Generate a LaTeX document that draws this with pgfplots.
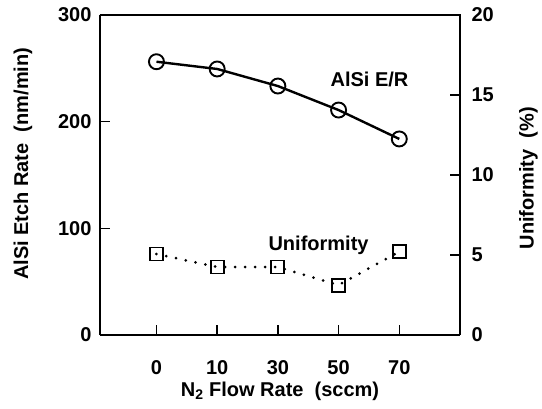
\documentclass[border=0pt]{standalone}
\usepackage{pgfplots}
\pgfplotsset{compat=1.18}
\usepackage{fontspec}
\setmainfont{Liberation Sans}
\begin{document}
\begin{tikzpicture}[font=\fontsize{20}{24}\selectfont\bfseries]
\pgfplotstableread{
idx er unif
0 256.2 5.06
1 249.4 4.25
2 233.4 4.25
3 210.9 3.12
4 183.8 5.21
}\datatab
\pgfplotsset{
  every axis/.append style={font=\fontsize{20}{24}\selectfont\bfseries},
  every tick label/.append style={font=\fontsize{20}{24}\selectfont\bfseries},
  every axis label/.append style={font=\fontsize{20}{24}\selectfont\bfseries},
}
\begin{axis}[
  at={(0,0)}, anchor=south west,
  scale only axis, width=360pt, height=320pt,
  xmin=-0.93, xmax=5.0, ymin=0, ymax=300,
  xtick={0,1,2,3,4}, xticklabels={0,10,30,50,70},
  ytick={0,100,200,300},
  axis x line*=bottom, axis y line*=left,
  axis line style={line width=1.8pt},
  major tick length=10pt,
  tick align=inside,
  tick style={line width=1.5pt, black},
  /pgf/number format/assume math mode=true,
  xticklabel style={anchor=base, yshift=-39pt},
  yticklabel style={anchor=east, xshift=-5pt},
  xlabel={N\textsubscript{2} Flow Rate\ \ (sccm)},
  xlabel style={at={(axis description cs:0.5,-0.175)}, anchor=center},
  ylabel={AlSi Etch Rate\ \ (nm/min)},
  ylabel style={at={(axis description cs:-0.214,0.535)}, anchor=center, rotate=0},
  clip=false,
]
\draw[line width=1.8pt] (axis cs:-0.93,300) -- (axis cs:5.0,300) -- (axis cs:5.0,0);
\addplot[black, line width=2.4pt, mark=o, mark size=7.5pt,
  mark options={fill=white, line width=1.9pt, solid}] table[x=idx, y=er] {\datatab};
\node[anchor=center, inner sep=0pt] at (axis cs:3.51,240) {AlSi E/R};
\node[anchor=center, inner sep=0pt] at (axis cs:2.67,84) {Uniformity};
\end{axis}
\begin{axis}[
  at={(0,0)}, anchor=south west,
  scale only axis, width=360pt, height=320pt,
  xmin=-0.93, xmax=5.0, ymin=0, ymax=20,
  axis x line=none, axis y line*=right,
  axis line style={line width=1.8pt},
  ytick={0,5,10,15,20},
  major tick length=10pt,
  tick align=inside,
  tick style={line width=1.5pt, black},
  /pgf/number format/assume math mode=true,
  yticklabel style={anchor=west, xshift=8pt},
  ylabel={Uniformity\ \ (\%)},
  ylabel style={at={(axis description cs:1.19,0.49)}, anchor=center, rotate=0},
  clip=false,
]
\addplot[black, line width=3pt, line cap=round, dash pattern=on 0pt off 10pt,
  mark=square, mark size=6.5pt,
  mark options={fill=white, line width=1.9pt, solid}] table[x=idx, y=unif] {\datatab};
\end{axis}
\pgfresetboundingbox
\path (-100pt,-73pt) rectangle (442pt,335pt);
\end{tikzpicture}
\end{document}
